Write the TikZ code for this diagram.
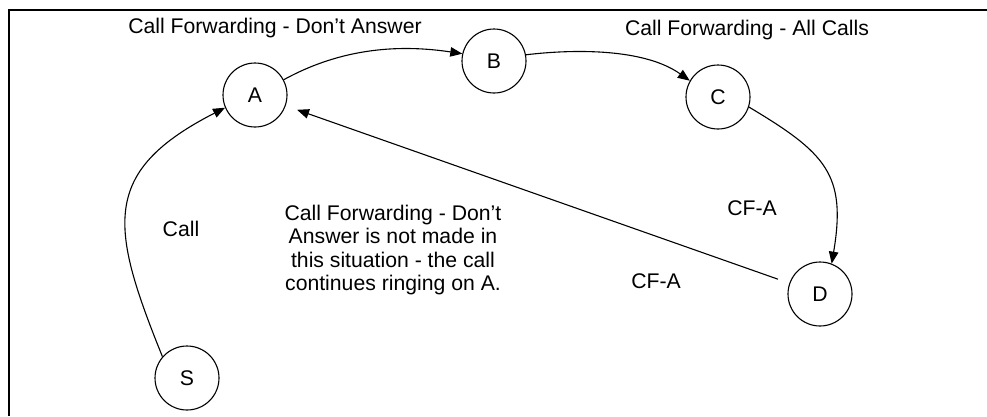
\documentclass[tikz,border=0pt]{standalone}
\usepackage{fontspec}
\setmainfont{Liberation Sans}
\usetikzlibrary{arrows.meta}
\begin{document}
\begin{tikzpicture}[x=1pt,y=-1pt,
  state/.style={circle,draw,line width=1.1pt,minimum size=64pt,inner sep=0pt,font=\fontsize{21.2}{23.5}\selectfont},
  lbl/.style={inner sep=0pt,font=\fontsize{21.2}{23.5}\selectfont},
  conn/.style={line width=1.1pt,-{Triangle[length=12pt,width=9.5pt]}},
  frame/.style={line width=2.2pt}]
\useasboundingbox (0,0) rectangle (987,416);
\coordinate (tl) at (9,10);
\coordinate (tr) at (987,10);
\coordinate (bl) at (9,416);
\draw[frame] (tr) -- (tl) -- (bl);
\node[state] (A) at (255,95) {A};
\node[state] (B) at (494,61) {B};
\node[state] (C) at (718,97) {C};
\node[state] (D) at (820,294) {D};
\node[state] (S) at (187,378) {S};
\draw[conn] (S.139) .. controls +(-52.5,-130) and +(-125,64) .. (A.203);
\draw[conn] (A.28) .. controls +(60,-33) and +(-60,-9) .. (B.167);
\draw[conn] (B.11) .. controls +(50,-6) and +(-45,-32) .. (C.150);
\draw[conn] (C.342) .. controls +(77,46) and +(15,-89) .. (D.69);
\draw[conn,shorten <=12pt,shorten >=12pt] (D) -- (A);
\node[lbl] (t1) at (275,28) {Call Forwarding - Don’t Answer};
\node[lbl] (t2) at (747,30) {Call Forwarding - All Calls};
\node[lbl] (call) at (181,229) {Call};
\node[lbl] (cfa1) at (752,208) {CF-A};
\node[lbl] (cfa2) at (656,281) {CF-A};
\node[lbl,align=center] (note) at (393,250) {Call Forwarding - Don’t\\Answer is not made in\\this situation - the call\\continues ringing on A.};
\end{tikzpicture}
\end{document}
